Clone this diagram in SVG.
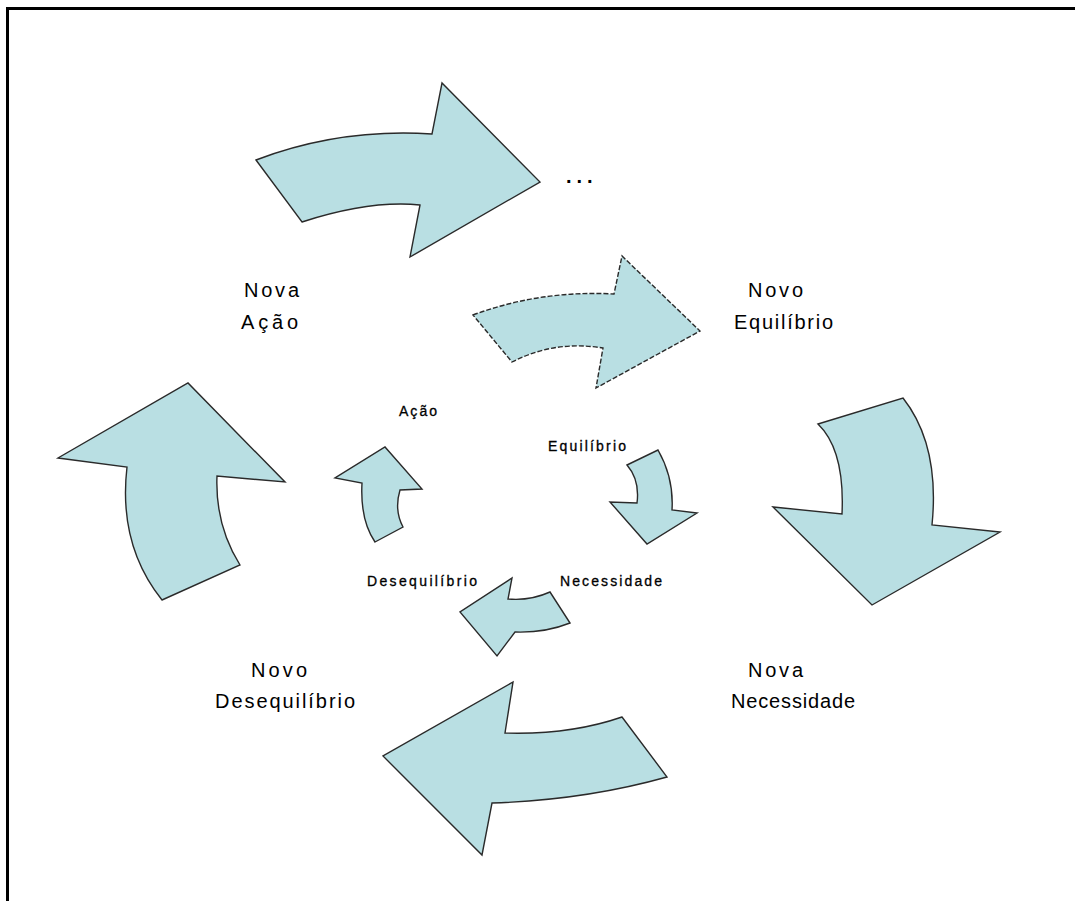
<svg xmlns="http://www.w3.org/2000/svg" width="1075" height="901" viewBox="0 0 1075 901">
<style>
.arr{fill:#b9dfe3;stroke:#2a2a2a;stroke-width:1.4;stroke-linejoin:miter}
.dash{stroke-dasharray:5 2}
.big{font-family:"Liberation Sans",Arial,sans-serif;font-size:20px;fill:#000}
.small{font-family:"Liberation Sans",Arial,sans-serif;font-size:14px;fill:#000;stroke:#000;stroke-width:0.3}
.frame{stroke:#000;stroke-width:3;fill:none}
</style>
<rect width="1075" height="901" fill="#fff"/>
<g id="frame">
<path class="frame" d="M6,8.5 H1075 M7.5,7 V901"/>
</g>
<g id="connectors">
<path id="arrow-top" class="arr" d="M256,160 Q340,128 432,134 L442,83 L540,182 L410,257 L420,205 Q370,200 302,222 Z"/>
<path id="arrow-mid" class="arr dash" d="M473,315 Q540,290 614,294 L622,256 L700,331 L596,388 L603,348 Q555,340 512,362 Z"/>
<path id="arrow-right" class="arr" d="M818,424 L903,398 Q940,445 932,525 L1000,532 L872,605 L773,507 L842,514 Q845,450 818,424 Z"/>
<path id="arrow-bottom" class="arr" d="M622,717 L667,777 Q585,800 492,803 L482,855 L383,756 L513,682 L505,733 Q570,735 622,717 Z"/>
<path id="arrow-left" class="arr" d="M162,600 L240,565 Q215,525 217,476 L285,482 L188,383 L58,458 L127,467 Q118,545 162,600 Z"/>
<path id="arrow-small-up" class="arr" d="M375,542 L403,527 Q394,510 400,490 L422,489 L385,447 L335,478 L362,483 Q360,520 375,542 Z"/>
<path id="arrow-small-down" class="arr" d="M627,465 L658,450 Q674,478 672,510 L697,513 L647,544 L610,502 L637,503 Q640,480 627,465 Z"/>
<path id="arrow-small-left" class="arr" d="M550,592 L570,623 Q545,633 515,632 L497,656 L460,612 L512,578 L508,599 Q530,601 550,592 Z"/>
</g>
<g id="node-dots"><text class="big" x="566" y="183" font-size="36" font-weight="bold" letter-spacing="5">...</text></g>
<g id="node-nova-acao">
<text class="big" x="244" y="297" textLength="55" lengthAdjust="spacing">Nova</text>
<text class="big" x="241" y="329" textLength="57" lengthAdjust="spacing">Ação</text>
</g>
<g id="node-novo-equilibrio">
<text class="big" x="748" y="297" textLength="55" lengthAdjust="spacing">Novo</text>
<text class="big" x="734" y="329" textLength="99" lengthAdjust="spacing">Equilíbrio</text>
</g>
<g id="node-nova-necessidade">
<text class="big" x="748" y="677" textLength="55" lengthAdjust="spacing">Nova</text>
<text class="big" x="731" y="708" textLength="124" lengthAdjust="spacing">Necessidade</text>
</g>
<g id="node-novo-desequilibrio">
<text class="big" x="251" y="677" textLength="56" lengthAdjust="spacing">Novo</text>
<text class="big" x="215" y="708" textLength="140" lengthAdjust="spacing">Desequilíbrio</text>
</g>
<g id="node-acao"><text class="small" x="399" y="416" textLength="38" lengthAdjust="spacing">Ação</text></g>
<g id="node-equilibrio"><text class="small" x="548" y="451" textLength="78" lengthAdjust="spacing">Equilíbrio</text></g>
<g id="node-desequilibrio"><text class="small" x="367" y="586" textLength="110" lengthAdjust="spacing">Desequilíbrio</text></g>
<g id="node-necessidade"><text class="small" x="560" y="586" textLength="102" lengthAdjust="spacing">Necessidade</text></g>
</svg>
